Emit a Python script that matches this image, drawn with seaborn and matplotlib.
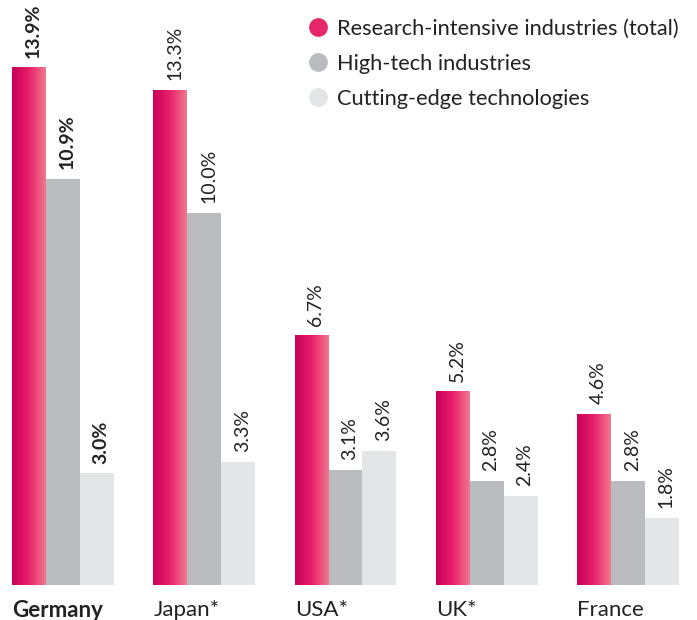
import numpy as np
import pandas as pd
import matplotlib
matplotlib.use("Agg")
import matplotlib.pyplot as plt
import seaborn as sns
from matplotlib.colors import LinearSegmentedColormap
from matplotlib.lines import Line2D

countries = ["Germany", "Japan*", "USA*", "UK*", "France"]
series = ["Research-intensive industries (total)", "High-tech industries", "Cutting-edge technologies"]
research = [13.9, 13.3, 6.7, 5.2, 4.6]
hightech = [10.9, 10.0, 3.1, 2.8, 2.8]
cutting = [3.0, 3.3, 3.6, 2.4, 1.8]
labels_research = ["13.9%", "13.3%", "6.7%", "5.2%", "4.6%"]
labels_hightech = ["10.9%", "10.0%", "3.1%", "2.8%", "2.8%"]
labels_cutting = ["3.0%", "3.3%", "3.6%", "2.4%", "1.8%"]

sns.set_theme(style="white")
plt.rcParams["font.family"] = ["Lato", "DejaVu Sans"]

df = pd.DataFrame({
    "country": countries * 3,
    "series": [series[0]] * 5 + [series[1]] * 5 + [series[2]] * 5,
    "value": research + hightech + cutting,
})

colors = ["#e4286a", "#bbbcc0", "#e4e5e7"]
fig = plt.figure(figsize=(6.97, 6.2), dpi=100)
ax = fig.add_axes([0, 35 / 620, 1, 585 / 620])
sns.barplot(data=df, x="country", y="value", hue="series", order=countries,
            hue_order=series, palette=colors, width=0.72, ax=ax,
            saturation=1, legend=False, linewidth=0, edgecolor="none")

ax.set_xlim(-0.446, 4.488)
ax.set_ylim(0, 585 / 37.25)
for s in ax.spines.values():
    s.set_visible(False)
ax.set_yticks([])
ax.set_xlabel("")
ax.set_ylabel("")

cmap = LinearSegmentedColormap.from_list("pinkgrad", ["#c8005a", "#e8206a", "#f07a8e"])
grad = np.linspace(0, 1, 256).reshape(1, -1)

patches = ax.patches
n = len(countries)
all_labels = [labels_research, labels_hightech, labels_cutting]
for si in range(3):
    for ci in range(n):
        p = patches[si * n + ci]
        x0 = p.get_x()
        w = p.get_width()
        h = p.get_height()
        if si == 0:
            p.set_facecolor("none")
            im = ax.imshow(grad, cmap=cmap, extent=[x0, x0 + w, 0, h],
                           aspect="auto", zorder=2, interpolation="bicubic")
            im.set_clip_path(p)
        bold = (ci == 0)
        ax.annotate(all_labels[si][ci], (x0 + w / 2 + 0.03, h), xytext=(0, 7),
                    textcoords="offset points", rotation=90, ha="center",
                    va="bottom", fontsize=14, color="#222222",
                    fontweight="bold" if bold else "normal")

ax.set_xlim(-0.446, 4.488)
ax.set_ylim(0, 585 / 37.25)

# country labels left-aligned with group start
ax.set_xticks([])
for ci, c in enumerate(countries):
    x0 = patches[ci].get_x()
    ax.annotate(c, (x0, 0), xytext=(0, -11), textcoords="offset points",
                ha="left", va="top", fontsize=16, color="#222222",
                fontweight="bold" if ci == 0 else "normal", annotation_clip=False)

handles = [Line2D([], [], marker="o", linestyle="none", markersize=13.5,
                  markerfacecolor=c, markeredgecolor="none") for c in colors]
leg = fig.legend(handles, series, loc="upper left",
                 bbox_to_anchor=(305 / 697, 1 - 19 / 620),
                 frameon=False, fontsize=15.7, handletextpad=0.26,
                 labelspacing=0.68, handlelength=1.2, borderaxespad=0,
                 borderpad=0)
for t in leg.get_texts():
    t.set_color("#222222")

fig.savefig("out.png", dpi=100)
